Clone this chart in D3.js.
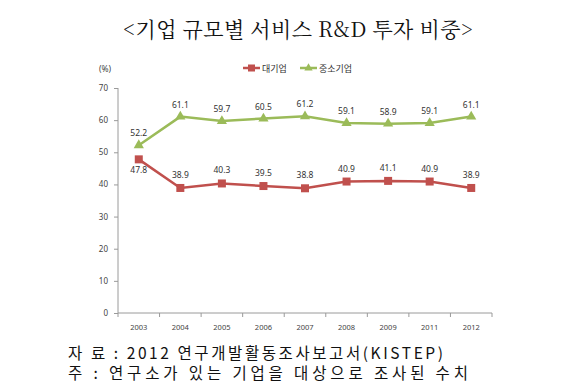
<!DOCTYPE html>
<html>
<head>
<meta charset="utf-8">
<script src="https://cdn.jsdelivr.net/npm/d3@7"></script>
<style>
body { margin: 0; background: #fff; }
svg { display: block; }
</style>
</head>
<body>
<div id="chart"></div>
<script>
const years = ["2003", "2004", "2005", "2006", "2007", "2008", "2009", "2011", "2012"];
const large = [47.8, 38.9, 40.3, 39.5, 38.8, 40.9, 41.1, 40.9, 38.9];
const sme = [52.2, 61.1, 59.7, 60.5, 61.2, 59.1, 58.9, 59.1, 61.1];
const yTicks = [0, 10, 20, 30, 40, 50, 60, 70];
const seriesNames = ["대기업", "중소기업"];

const width = 580, height = 391;
const svg = d3.select("#chart").append("svg")
    .attr("width", width)
    .attr("height", height);

// title
svg.append("text")
    .attr("x", 298).attr("y", 37)
    .attr("text-anchor", "middle")
    .attr("font-family", "'Noto Serif CJK KR', 'DejaVu Serif', serif")
    .attr("font-size", 21)
    .attr("textLength", 350).attr("lengthAdjust", "spacing")
    .attr("fill", "#111")
    .text("<기업 규모별 서비스 R&D 투자 비중>");

const x = d3.scaleBand().domain(years).range([118, 492]);
const y = d3.scaleLinear().domain([0, 70]).range([313, 88]);

// y axis
const yAxis = svg.append("g")
    .attr("transform", "translate(118,0)")
    .call(d3.axisLeft(y).tickValues(yTicks).tickSize(4).tickPadding(6));
yAxis.selectAll("text").attr("font-family", "'Noto Sans', sans-serif").attr("font-size", 8).attr("fill", "#444");
yAxis.selectAll("line, path").attr("stroke", "#9a9a9a");
yAxis.select(".domain").attr("d", "M0," + y(0) + "V" + y(70));

// x axis with ticks at band edges
const xg = svg.append("g").attr("transform", "translate(0," + y(0) + ")");
xg.append("line").attr("x1", 118).attr("x2", 492).attr("stroke", "#9a9a9a");
xg.selectAll("line.tk")
    .data(years.concat(["end"]))
    .enter().append("line")
    .attr("class", "tk")
    .attr("x1", (d, i) => 118 + i * x.step())
    .attr("x2", (d, i) => 118 + i * x.step())
    .attr("y1", 0).attr("y2", 4)
    .attr("stroke", "#9a9a9a");
xg.selectAll("text")
    .data(years)
    .enter().append("text")
    .attr("x", d => x(d) + x.bandwidth() / 2)
    .attr("y", 17)
    .attr("text-anchor", "middle")
    .attr("font-family", "'Noto Sans', sans-serif")
    .attr("font-size", 7.5)
    .attr("fill", "#444")
    .text(d => d);

svg.append("text")
    .attr("x", 99).attr("y", 72)
    .attr("font-family", "'Noto Sans', sans-serif")
    .attr("font-size", 8.5)
    .attr("fill", "#444")
    .text("(%)");

const cx = d => x(d) + x.bandwidth() / 2;
const line = d3.line().x((d, i) => cx(years[i])).y(d => y(d));

const red = "#C0504D", green = "#9BBB59";

// SME line
svg.append("path").datum(sme)
    .attr("d", line).attr("fill", "none")
    .attr("stroke", green).attr("stroke-width", 2.5);
svg.selectAll("path.tri")
    .data(sme).enter().append("path")
    .attr("class", "tri")
    .attr("d", d3.symbol().type(d3.symbolTriangle).size(45))
    .attr("transform", (d, i) => "translate(" + cx(years[i]) + "," + y(d) + ")")
    .attr("fill", green);

// large company line
svg.append("path").datum(large)
    .attr("d", line).attr("fill", "none")
    .attr("stroke", red).attr("stroke-width", 2.5);
svg.selectAll("rect.sq")
    .data(large).enter().append("rect")
    .attr("class", "sq")
    .attr("x", (d, i) => cx(years[i]) - 4)
    .attr("y", d => y(d) - 4)
    .attr("width", 8).attr("height", 8)
    .attr("fill", red);

// labels
const labelFont = "'Noto Sans', sans-serif";
svg.selectAll("text.lg")
    .data(sme).enter().append("text")
    .attr("class", "lg")
    .attr("x", (d, i) => cx(years[i]))
    .attr("y", d => y(d) - 9)
    .attr("text-anchor", "middle")
    .attr("font-family", labelFont).attr("font-size", 8.5).attr("fill", "#333")
    .text(d => d.toFixed(1));
svg.selectAll("text.ll")
    .data(large).enter().append("text")
    .attr("class", "ll")
    .attr("x", (d, i) => cx(years[i]))
    .attr("y", (d, i) => i === 0 ? y(d) + 14 : y(d) - 10)
    .attr("text-anchor", "middle")
    .attr("font-family", labelFont).attr("font-size", 8.5).attr("fill", "#333")
    .text(d => d.toFixed(1));

// legend
const legend = svg.append("g").attr("transform", "translate(243,68)");
[[red, "sq"], [green, "tri"]].forEach((s, i) => {
    const g = legend.append("g").attr("transform", "translate(" + (i * 57) + ",0)");
    g.append("line").attr("x1", 0).attr("x2", 17).attr("y1", 0).attr("y2", 0)
        .attr("stroke", s[0]).attr("stroke-width", 2.5);
    if (s[1] === "sq") {
        g.append("rect").attr("x", 5).attr("y", -3.5).attr("width", 7).attr("height", 7).attr("fill", s[0]);
    } else {
        g.append("path").attr("d", d3.symbol().type(d3.symbolTriangle).size(30))
            .attr("transform", "translate(8.5,0)").attr("fill", s[0]);
    }
    g.append("text").attr("x", 19).attr("y", 3.5)
        .attr("font-family", "'Noto Sans CJK KR', sans-serif")
        .attr("font-size", 9).attr("fill", "#333")
        .text(seriesNames[i]);
});

// footnotes
const notes = svg.append("g").attr("font-family", "'Noto Sans CJK KR', sans-serif")
    .attr("font-size", 15.5).attr("fill", "#111");
notes.append("text").attr("x", 68).attr("y", 359)
    .attr("textLength", 375).attr("lengthAdjust", "spacing")
    .text("자  료 : 2012 연구개발활동조사보고서(KISTEP)");
notes.append("text").attr("x", 68).attr("y", 379)
    .attr("textLength", 400).attr("lengthAdjust", "spacing")
    .text("주 : 연구소가 있는 기업을 대상으로 조사된 수치");
</script>
</body>
</html>
